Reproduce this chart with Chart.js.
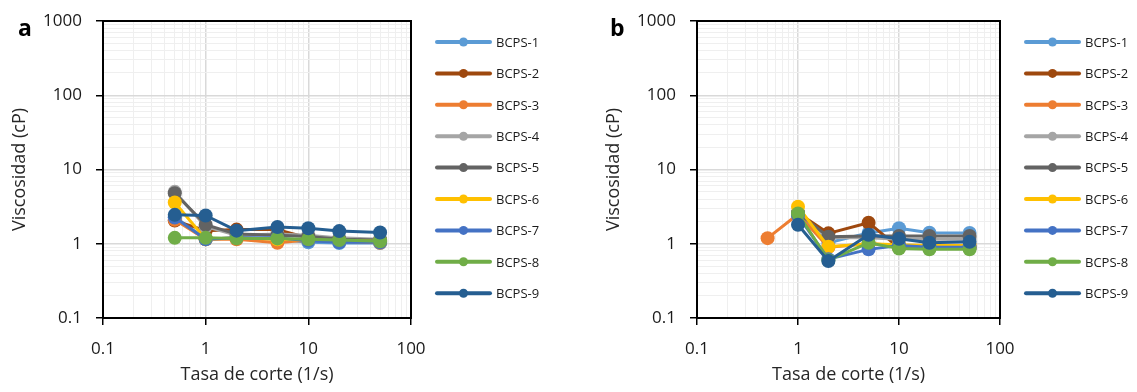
<!DOCTYPE html>
<html>
<head>
<meta charset="utf-8">
<script src="https://cdn.jsdelivr.net/npm/chart.js@4/dist/chart.umd.min.js"></script>
<style>
  body { margin: 0; background: #fff; width: 1137px; height: 392px; overflow: hidden; position: relative; }
  canvas { position: absolute; top: 0; }
  #chartA { left: 0; }
  #chartB { left: 594px; }
</style>
</head>
<body>
<canvas id="chartA" width="560" height="392"></canvas>
<canvas id="chartB" width="543" height="392"></canvas>
<script>
// shear rate (1/s) for every measurement
const shearRates = [0.5, 1, 2, 5, 10, 20, 50];

const sampleNames = ['BCPS-1', 'BCPS-2', 'BCPS-3', 'BCPS-4', 'BCPS-5', 'BCPS-6', 'BCPS-7', 'BCPS-8', 'BCPS-9'];
const sampleColors = ['#5B9BD5', '#9E480E', '#ED7D31', '#A5A5A5', '#636363', '#FFC000', '#4472C4', '#70AD47', '#255E91'];

// viscosity (cP), panel a
const viscA1 = [2.3, 1.15, 1.2, 1.15, 1.05, 1.02, 1.02];
const viscA2 = [2.05, 1.5, 1.55, 1.55, 1.2, 1.15, 1.1];
const viscA3 = [2.1, 1.15, 1.15, 1.03, 1.12, 1.08, 1.03];
const viscA4 = [5.0, 1.7, 1.3, 1.35, 1.3, 1.2, 1.15];
const viscA5 = [4.8, 1.8, 1.35, 1.3, 1.25, 1.15, 1.12];
const viscA6 = [3.6, 1.15, 1.2, 1.15, 1.12, 1.1, 1.08];
const viscA7 = [2.25, 1.15, 1.2, 1.2, 1.1, 1.05, 1.05];
const viscA8 = [1.2, 1.2, 1.18, 1.18, 1.15, 1.12, 1.08];
const viscA9 = [2.45, 2.4, 1.5, 1.68, 1.62, 1.48, 1.42];

// viscosity (cP), panel b
const viscB1 = [null, 2.5, 1.03, 1.4, 1.62, 1.41, 1.4];
const viscB2 = [null, 2.6, 1.38, 1.92, 0.88, 0.88, 0.88];
const viscB3 = [1.19, 2.5, 0.9, 1.0, 0.95, 0.92, 0.92];
const viscB4 = [null, 2.6, 1.2, 1.2, 1.15, 1.15, 1.15];
const viscB5 = [null, 2.6, 1.24, 1.27, 1.27, 1.27, 1.27];
const viscB6 = [null, 3.15, 0.91, 1.0, 0.97, 0.95, 0.95];
const viscB7 = [null, 2.4, 0.62, 0.84, 0.95, 0.9, 0.9];
const viscB8 = [null, 2.56, 0.6, 1.03, 0.86, 0.84, 0.84];
const viscB9 = [null, 1.8, 0.585, 1.32, 1.17, 1.03, 1.06];

const xDecades = [0.1, 1, 10, 100];
const yDecades = [0.1, 1, 10, 100, 1000];

Chart.defaults.font.family = "'Open Sans', sans-serif";

// 1..9 in every decade, labels only on the powers of ten
function decadeTicks(decades) {
  const ticks = [];
  decades.forEach((d, i) => {
    if (i === decades.length - 1) {
      ticks.push({ value: d, major: true });
      return;
    }
    for (let k = 1; k < 10; k++) {
      ticks.push({ value: +(d * k).toPrecision(6), major: k === 1 });
    }
  });
  return ticks;
}

function logAxis(decades, title, tickPad, titlePad, fit) {
  return {
    type: 'logarithmic',
    min: decades[0],
    max: decades[decades.length - 1],
    afterBuildTicks: scale => { scale.ticks = decadeTicks(decades); },
    afterFit: fit,
    grid: {
      color: c => (c.tick && c.tick.major ? '#d9d9d9' : '#efefef'),
      lineWidth: c => (c.tick && c.tick.major ? 1.5 : 1),
      tickColor: c => (c.tick && c.tick.major ? '#000' : 'rgba(0,0,0,0)'),
      tickLength: 7,
      tickWidth: 1.5
    },
    border: { display: false },
    ticks: {
      autoSkip: false,
      maxRotation: 0,
      padding: tickPad,
      color: '#1a1a1a',
      font: { size: 17 },
      callback: (v, i, ticks) => (ticks[i].major ? String(v) : '')
    },
    title: { display: true, text: title, padding: titlePad, color: '#262626', font: { size: 18 } }
  };
}

const plotFrame = {
  id: 'plotFrame',
  beforeDatasetsDraw(chart) {
    const { ctx, chartArea: a } = chart;
    ctx.save();
    ctx.strokeStyle = '#000';
    ctx.lineWidth = 2;
    ctx.strokeRect(a.left, a.top, a.right - a.left, a.bottom - a.top);
    ctx.restore();
  }
};

const sideLegend = {
  id: 'sideLegend',
  afterDraw(chart) {
    const { ctx, chartArea } = chart;
    const x0 = chartArea.right + 26;
    ctx.save();
    ctx.font = "13px 'Open Sans', sans-serif";
    ctx.textBaseline = 'middle';
    chart.data.datasets.forEach((ds, i) => {
      const y = 42 + i * 31.4;
      ctx.strokeStyle = ds.borderColor;
      ctx.lineWidth = 4;
      ctx.lineCap = 'round';
      ctx.beginPath();
      ctx.moveTo(x0, y);
      ctx.lineTo(x0 + 53, y);
      ctx.stroke();
      ctx.fillStyle = ds.borderColor;
      ctx.beginPath();
      ctx.arc(x0 + 26.5, y, 4.5, 0, Math.PI * 2);
      ctx.fill();
      ctx.fillStyle = '#1a1a1a';
      ctx.fillText(ds.label, x0 + 59, y + 1);
    });
    ctx.restore();
  }
};

const panelLetter = {
  id: 'panelLetter',
  afterDraw(chart, args, opts) {
    const { ctx } = chart;
    ctx.save();
    ctx.font = "bold 23px 'Open Sans', sans-serif";
    ctx.fillStyle = '#000';
    ctx.textBaseline = 'alphabetic';
    ctx.fillText(opts.text, opts.x, 36);
    ctx.restore();
  }
};

function makeChart(id, series, letter, letterX, padRight) {
  // fixed axis sizes so both plot areas line up the same way
  const xAxis = logAxis(xDecades, 'Tasa de corte (1/s)', 14, { top: 0, bottom: 6 }, s => {
    s.height = 74;
    s.paddingLeft = 0;
    s.paddingRight = 0;
  });
  const yAxis = logAxis(yDecades, 'Viscosidad (cP)', 14, { top: 9, bottom: 0 }, s => {
    s.width = 103;
    s.paddingTop = 0;
    s.paddingBottom = 0;
  });

  return new Chart(document.getElementById(id), {
    type: 'line',
    data: {
      datasets: series.map((vals, i) => ({
        label: sampleNames[i],
        data: vals.map((v, j) => ({ x: shearRates[j], y: v })),
        borderColor: sampleColors[i],
        backgroundColor: sampleColors[i],
        borderWidth: 3,
        borderJoinStyle: 'round',
        pointRadius: 7,
        pointHoverRadius: 7,
        pointBorderWidth: 0,
        order: series.length - 1 - i,
        tension: 0
      }))
    },
    options: {
      responsive: false,
      animation: false,
      layout: { padding: { top: 21, right: padRight, bottom: 0, left: 0 } },
      plugins: {
        legend: { display: false },
        tooltip: { enabled: false },
        panelLetter: { text: letter, x: letterX }
      },
      scales: { x: xAxis, y: yAxis }
    },
    plugins: [plotFrame, sideLegend, panelLetter]
  });
}

makeChart('chartA', [viscA1, viscA2, viscA3, viscA4, viscA5, viscA6, viscA7, viscA8, viscA9], 'a', 18, 149);
makeChart('chartB', [viscB1, viscB2, viscB3, viscB4, viscB5, viscB6, viscB7, viscB8, viscB9], 'b', 16, 137);
</script>
</body>
</html>
